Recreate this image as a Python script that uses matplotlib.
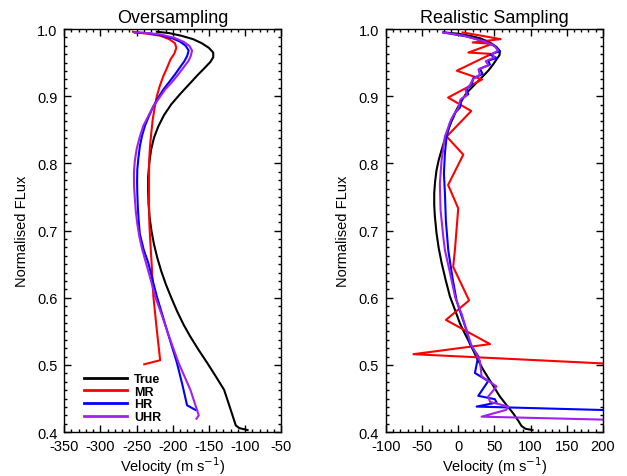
import matplotlib
matplotlib.use("Agg")
import matplotlib.pyplot as plt
from matplotlib.ticker import MultipleLocator

plt.rcParams['font.family'] = ['Liberation Sans', 'DejaVu Sans']
plt.rcParams['axes.unicode_minus'] = False

# ---- Oversampling panel (velocity, flux) ----
true_os_v = [-222, -205, -188, -172, -160, -150, -144, -144, -148, -156, -166, -178, -190,
             -202, -212, -220, -226, -230, -232.5, -234, -234, -233.5, -232, -229.5, -226,
             -221.5, -216, -209.5, -202, -194, -185, -175.6, -164, -152.3, -140.5, -129,
             -121, -112.8, -108, -96.5]
true_os_f = [0.996, 0.994, 0.990, 0.985, 0.979, 0.972, 0.965, 0.958, 0.951, 0.942, 0.931,
             0.917, 0.903, 0.888, 0.872, 0.855, 0.838, 0.820, 0.800, 0.780, 0.760, 0.740,
             0.720, 0.700, 0.680, 0.660, 0.640, 0.620, 0.600, 0.580, 0.560, 0.542, 0.522,
             0.503, 0.483, 0.463, 0.437, 0.410, 0.406, 0.403]

mr_os_v = [-255, -252, -235, -217, -205, -197, -195, -198, -203, -208, -213, -218, -222, -225,
           -227.6, -229.6, -231.4, -232.5, -232.8, -232.8, -232.3, -231.4, -229, -226.8,
           -222, -217.4, -239.4]
mr_os_f = [0.996, 0.995, 0.993, 0.990, 0.985, 0.979, 0.972, 0.963, 0.955, 0.942, 0.930,
           0.915, 0.900, 0.883, 0.866, 0.846, 0.826, 0.806, 0.786, 0.736, 0.710, 0.691,
           0.647, 0.602, 0.552, 0.507, 0.501]

hr_os_v = [-252.3, -235, -217, -200, -189.5, -182, -178, -180, -184, -190, -196.5, -205,
           -213, -220, -226.8, -233, -238.4, -242.5, -245.4, -247.5, -249, -249.3, -249,
           -248.3, -247.2, -245.5, -240, -233.8, -228, -222, -215, -208.1, -201, -194.2,
           -187, -180.2, -168.6]
hr_os_f = [0.995, 0.994, 0.991, 0.986, 0.981, 0.975, 0.968, 0.960, 0.952, 0.943, 0.933,
           0.921, 0.910, 0.898, 0.885, 0.870, 0.856, 0.841, 0.826, 0.808, 0.791, 0.773,
           0.756, 0.736, 0.716, 0.695, 0.671, 0.652, 0.627, 0.602, 0.577, 0.552, 0.527,
           0.503, 0.472, 0.440, 0.433]

uhr_os_v = [-252.3, -235, -217.4, -198, -185, -177, -173.3, -175, -178, -185, -192, -201,
            -210.5, -219, -226.8, -234, -240.7, -246, -250, -252.5, -253.7, -253.5, -252.3,
            -251, -249, -246, -242, -237, -230.5, -224.4, -216, -208.1, -200, -191.9,
            -183.8, -175.6, -169.5, -164, -167.2]
uhr_os_f = [0.995, 0.994, 0.992, 0.987, 0.981, 0.975, 0.968, 0.960, 0.953, 0.943, 0.933,
            0.921, 0.910, 0.897, 0.885, 0.870, 0.856, 0.838, 0.821, 0.803, 0.786, 0.766,
            0.746, 0.728, 0.710, 0.690, 0.671, 0.652, 0.627, 0.602, 0.577, 0.552, 0.527,
            0.503, 0.483, 0.463, 0.443, 0.425, 0.420]

# ---- Realistic sampling panel ----
true_rs_v = [-19.8, 0, 16.1, 31, 43.8, 52, 57.6, 57, 53, 48, 41.5, 33.5, 25.3, 18, 11.5,
             4.5, -2.3, -8.5, -13.8, -18.8, -23, -27, -30, -32, -33.2, -33.2, -32.3, -30,
             -27, -23, -17.5, -11.5, -4.5, 2.3, 9, 16.1, 25, 34.5, 46, 57.6, 67, 76, 83,
             87.6, 93, 102.8]
true_rs_f = [0.995, 0.993, 0.990, 0.986, 0.980, 0.974, 0.967, 0.961, 0.955, 0.947, 0.938,
             0.929, 0.920, 0.912, 0.905, 0.893, 0.880, 0.865, 0.850, 0.835, 0.820, 0.805,
             0.790, 0.773, 0.756, 0.738, 0.721, 0.696, 0.674, 0.652, 0.627, 0.602, 0.582,
             0.562, 0.547, 0.532, 0.512, 0.493, 0.473, 0.453, 0.440, 0.428, 0.417, 0.409,
             0.405, 0.403]

mr_rs_v = [6, 58.6, 20, 47, 14, 46, -2, 33, -14, 18, -16, 7, -14, 0, -4.6, -7, 15, -17, 44,
           -62, 300]
mr_rs_f = [0.995, 0.985, 0.980, 0.978, 0.965, 0.963, 0.938, 0.925, 0.898, 0.878, 0.840,
           0.813, 0.768, 0.733, 0.671, 0.646, 0.596, 0.567, 0.531, 0.516, 0.497]

hr_rs_v = [-20.7, 11.6, 39.2, 53, 57.6, 43.8, 53, 41.5, 43.8, 30, 33.7, 20.8, 18.5, 11.6,
           13.9, 4.7, 2.3, -4.6, -6.9, -11.5, -16.1, -18.4, -19.8, -18.4, -17.1, -13.8, -8,
           -2.3, 4.6, 11.6, 16.2, 27.7, 23.1, 41.5, 27.7, 50.7, 53, 25.4, 300]
hr_rs_f = [0.995, 0.989, 0.981, 0.973, 0.967, 0.962, 0.957, 0.953, 0.947, 0.941, 0.933,
           0.927, 0.917, 0.911, 0.903, 0.896, 0.883, 0.875, 0.868, 0.860, 0.840, 0.815,
           0.785, 0.755, 0.715, 0.671, 0.630, 0.596, 0.573, 0.551, 0.531, 0.513, 0.488,
           0.476, 0.454, 0.449, 0.444, 0.438, 0.430]

uhr_rs_v = [-20.7, 8, 35, 50, 55, 47, 50, 38, 42, 28, 30, 20, 16, 10, 12, 3, 0, -6, -10,
            -18.4, -23, -25.4, -24.4, -20.7, -18.4, -12, -4, 5, 12, 18, 30, 32.3, 53, 41.5,
            44, 69.2, 66, 32.3, 300]
uhr_rs_f = [0.995, 0.990, 0.982, 0.975, 0.968, 0.963, 0.958, 0.952, 0.946, 0.940, 0.932,
            0.925, 0.916, 0.910, 0.902, 0.895, 0.882, 0.873, 0.865, 0.840, 0.805, 0.770,
            0.730, 0.691, 0.671, 0.640, 0.600, 0.575, 0.550, 0.530, 0.506, 0.483, 0.468,
            0.453, 0.445, 0.438, 0.433, 0.423, 0.416]

labels = ["True", "MR", "HR", "UHR"]
colors = ["black", "#ff0000", "#0000ff", "#a020f0"]

fig = plt.figure(figsize=(6.27, 4.77), dpi=100)
ax1 = fig.add_axes([0.1025, 0.092, 0.346, 0.845])
ax2 = fig.add_axes([0.6155, 0.092, 0.346, 0.845])

os_data = [(true_os_v, true_os_f), (mr_os_v, mr_os_f), (hr_os_v, hr_os_f), (uhr_os_v, uhr_os_f)]
rs_data = [(true_rs_v, true_rs_f), (mr_rs_v, mr_rs_f), (hr_rs_v, hr_rs_f), (uhr_rs_v, uhr_rs_f)]

for (v, f), c, lab in zip(os_data, colors, labels):
    ax1.plot(v, f, color=c, lw=1.5, label=lab)
for (v, f), c in zip(rs_data, colors):
    ax2.plot(v, f, color=c, lw=1.5)

ax1.set_xlim(-350, -50)
ax2.set_xlim(-100, 200)
ax1.set_title("Oversampling", fontsize=13, pad=5)
ax2.set_title("Realistic Sampling", fontsize=13, pad=5)

for ax in (ax1, ax2):
    ax.set_ylim(0.4, 1.0)
    ax.xaxis.set_major_locator(MultipleLocator(50))
    ax.xaxis.set_minor_locator(MultipleLocator(10))
    ax.yaxis.set_major_locator(MultipleLocator(0.1))
    ax.yaxis.set_minor_locator(MultipleLocator(0.0125))
    ax.tick_params(which="both", direction="in", top=True, right=True, labelsize=10.5)
    ax.tick_params(which="major", length=5, width=1, pad=5)
    ax.tick_params(which="minor", length=2.5, width=1)
    ax.set_xlabel("Velocity (m s$^{-1}$)", fontsize=10.5, labelpad=1)
    ax.set_ylabel("Normalised FLux", fontsize=10.5, labelpad=6)
    for s in ax.spines.values():
        s.set_linewidth(1)

leg = ax1.legend(loc="lower left", bbox_to_anchor=(0.04, -0.005), frameon=False,
                 handlelength=3.4, labelspacing=0.05, handletextpad=0.6,
                 prop={"weight": "bold", "size": 9})
for line in leg.get_lines():
    line.set_linewidth(2)

fig.savefig("out.png", dpi=100)
